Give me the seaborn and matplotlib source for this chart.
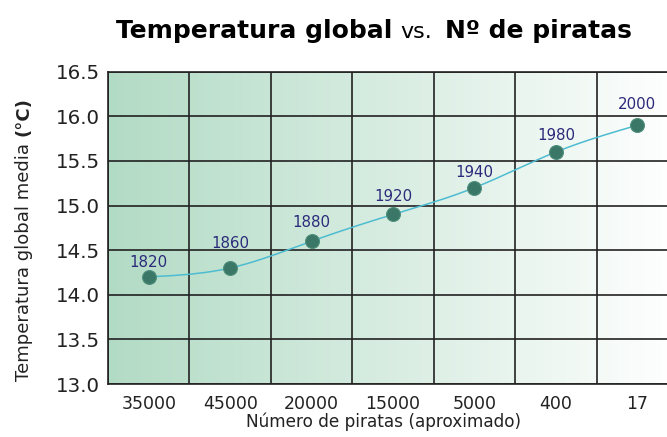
import matplotlib
matplotlib.use("Agg")
import numpy as np
import matplotlib.pyplot as plt
from matplotlib.colors import LinearSegmentedColormap
import seaborn as sns

# ---- data ----
pirates = ["35000", "45000", "20000", "15000", "5000", "400", "17"]
years = ["1820", "1860", "1880", "1920", "1940", "1980", "2000"]
temps = [14.2, 14.3, 14.6, 14.9, 15.2, 15.6, 15.9]
yticks = [13.0, 13.5, 14.0, 14.5, 15.0, 15.5, 16.0, 16.5]
label_offsets_px = [10, 20, 14, 13, 11, 12, 16]

sns.set_style("white")
plt.rcParams["font.family"] = ["DejaVu Sans"]

W, H = 667, 437
fig = plt.figure(figsize=(W / 100, H / 100), dpi=100)
fig.patch.set_facecolor("white")


def fx(px):
    return px / W


def fy(py):
    return 1 - py / H


ax = fig.add_axes([fx(108), fy(384), 570 / W, (384 - 71.7) / H])

idx = np.arange(len(pirates), dtype=float)
y = np.array(temps)


def natural_spline(x, yv, xs):
    n = len(x)
    h = np.diff(x)
    A = np.zeros((n, n))
    b = np.zeros(n)
    A[0, 0] = 1
    A[-1, -1] = 1
    for i in range(1, n - 1):
        A[i, i - 1] = h[i - 1]
        A[i, i] = 2 * (h[i - 1] + h[i])
        A[i, i + 1] = h[i]
        b[i] = 3 * ((yv[i + 1] - yv[i]) / h[i] - (yv[i] - yv[i - 1]) / h[i - 1])
    c = np.linalg.solve(A, b)
    out = np.empty_like(xs)
    for k, xv in enumerate(xs):
        i = min(max(np.searchsorted(x, xv) - 1, 0), n - 2)
        t = xv - x[i]
        bi = (yv[i + 1] - yv[i]) / h[i] - h[i] * (2 * c[i] + c[i + 1]) / 3
        di = (c[i + 1] - c[i]) / (3 * h[i])
        out[k] = yv[i] + bi * t + c[i] * t ** 2 + di * t ** 3
    return out


xs = np.linspace(idx[0], idx[-1], 300)
ys = natural_spline(idx, y, xs)

# background gradient
cmap = LinearSegmentedColormap.from_list("g", ["#b2dbc5", "#ffffff"])
grad = np.linspace(0, 1, 256)[None, :]
ax.imshow(grad, extent=[-0.5, 6.5, 13, 16.5], aspect="auto", cmap=cmap,
          zorder=0, interpolation="bicubic")

sns.lineplot(x=xs, y=ys, ax=ax, color="#4dbcd1", lw=1.1, zorder=3, sort=False)
sns.scatterplot(x=idx, y=y, ax=ax, s=100, color="#3b7767",
                edgecolor="#4f8f7c", linewidth=0.8, zorder=4)

for i, (yr, t) in enumerate(zip(years, temps)):
    ax.annotate(yr, (idx[i], t), xytext=(0, label_offsets_px[i] * 0.72),
                textcoords="offset points", ha="center", va="baseline",
                fontsize=10.8, color="#2c2a7a", zorder=5)

ax.set_xlim(-0.5, 6.5)
ax.set_ylim(13, 16.5)
ax.set_xticks(np.arange(-0.5, 7.0, 1.0))
ax.set_xticklabels([])
ax.set_xticks(idx, minor=True)
ax.set_xticklabels(pirates, minor=True)
ax.tick_params(axis="x", which="major", length=5, width=1.2,
               direction="out", color="#222222")
ax.tick_params(axis="x", which="minor", length=0, pad=8,
               labelsize=12.5, labelcolor="#222222")
ax.set_yticks(yticks)
ax.set_yticklabels([f"{v:.1f}" for v in yticks])
ax.tick_params(axis="y", length=4.5, width=1.2, pad=1.5, labelsize=14.3,
               color="#222222", labelcolor="#222222")
ax.set_axisbelow(True)
ax.grid(True, which="major", color="#222222", lw=1.2)
ax.set_xlabel("")
ax.set_ylabel("")
for s in ["left", "bottom", "top"]:
    ax.spines[s].set_color("#222222")
    ax.spines[s].set_linewidth(1.2)
ax.spines["right"].set_visible(False)
if ax.get_legend():
    ax.get_legend().remove()

# x label
fig.text(fx(383), fy(427), "Número de piratas (aproximado)", ha="center",
         va="baseline", fontsize=12.2, color="#222222")

# y label
fig.text(fx(29), fy(381), "Temperatura global media", rotation=90,
         rotation_mode="anchor", ha="left", va="baseline", fontsize=13,
         color="#222222")
fig.text(fx(29), fy(136), "(°C)", rotation=90, rotation_mode="anchor",
         ha="left", va="baseline", fontsize=13, fontweight="bold",
         color="#222222")

# title
fig.text(fx(116), fy(38), "Temperatura global", ha="left", va="baseline",
         fontsize=18, fontweight="heavy", color="black")
fig.text(fx(400), fy(38), "vs.", ha="left", va="baseline",
         fontsize=16, color="black")
fig.text(fx(445), fy(38), "Nº de piratas", ha="left", va="baseline",
         fontsize=18, fontweight="heavy", color="black")

fig.savefig("out.png", dpi=100)
